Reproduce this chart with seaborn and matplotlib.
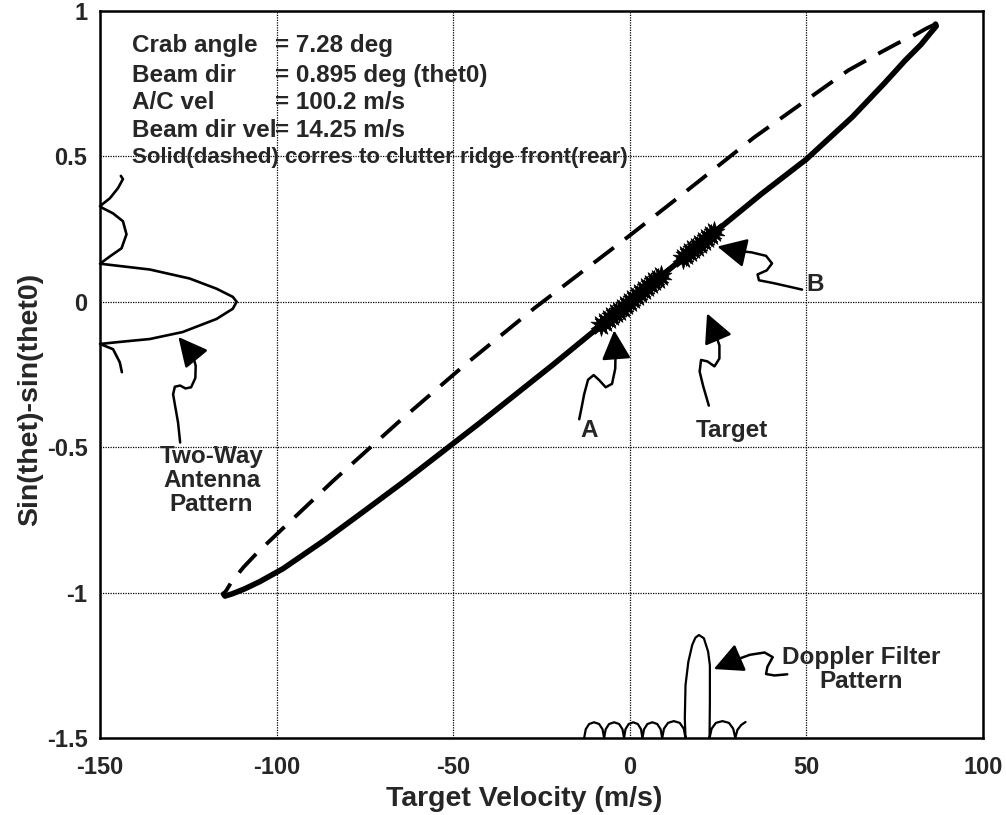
import matplotlib
matplotlib.use("Agg")
import matplotlib.pyplot as plt
import seaborn as sns

# ── data ──────────────────────────────────────────────
# front clutter ridge (solid), lower tip -> upper tip
front_vel = [-115.0, -114.6, -112.5, -109.0, -104.7, -98.2, -86.2, -75.0, -63.7, -42.4,
             -21.7, -1.6, 18.1, 37.2, 50.0, 63.0, 72.0, 78.0, 82.5, 85.2, 86.8, 86.6]
front_sin = [-1.005, -1.012, -1.004, -0.987, -0.962, -0.918, -0.818, -0.718, -0.616, -0.416,
             -0.216, -0.016, 0.180, 0.370, 0.490, 0.635, 0.750, 0.830, 0.885, 0.925, 0.948, 0.955]

# rear clutter ridge (dashed), upper tip -> lower tip
rear_vel = [86.6, 84.0, 80.8, 76.0, 71.4, 61.9, 52.5, 35.2, 13.9, 0.0, -6.8,
            -27.0, -46.6, -65.7, -84.0, -101.4, -105.4, -109.3, -112.7, -114.2, -115.0]
rear_sin = [0.955, 0.940, 0.918, 0.890, 0.860, 0.796, 0.715, 0.565, 0.360, 0.228, 0.165,
            -0.022, -0.216, -0.416, -0.616, -0.816, -0.862, -0.912, -0.962, -0.992, -1.005]

# two-way antenna pattern drawn against the left axis
ant_vel = [-143.8, -144.4, -146.3, -150.0, -144.4, -135.9, -126.6, -117.0, -112.4, -111.3,
           -112.4, -117.0, -124.6, -135.9, -150.0, -147.2, -143.9, -142.5, -143.5, -146.3,
           -149.2, -150.0, -147.2, -144.9, -143.5, -144.1]
ant_sin = [-0.242, -0.208, -0.163, -0.145, -0.138, -0.128, -0.104, -0.059, -0.024, 0.000,
           0.017, 0.045, 0.080, 0.111, 0.131, 0.156, 0.184, 0.232, 0.277, 0.304,
           0.322, 0.329, 0.356, 0.391, 0.422, 0.433]

# doppler filter pattern drawn on the bottom axis
dop_vel = [-12.9, -12.45, -11.5, -10.1, -8.65, -7.7, -7.25,
           -6.8, -5.85, -4.4, -3.0, -2.05, -1.6,
           -1.2, -0.3, 1.0, 2.3, 3.2, 3.6,
           4.05, 5.0, 6.4, 7.8, 8.75, 9.2,
           9.7, 10.85, 12.5, 14.15, 15.3, 15.8,
           15.6, 15.8, 16.6, 17.7, 18.6, 19.6, 21.0, 22.2, 22.7, 22.7, 22.6,
           23.2, 24.4, 26.25, 28.1, 29.3, 29.9,
           30.5, 31.6, 32.8]
dop_sin = [-1.5, -1.47, -1.452, -1.446, -1.452, -1.47, -1.5,
           -1.47, -1.452, -1.446, -1.452, -1.47, -1.5,
           -1.47, -1.452, -1.446, -1.452, -1.47, -1.5,
           -1.47, -1.452, -1.446, -1.452, -1.47, -1.5,
           -1.468, -1.448, -1.442, -1.448, -1.468, -1.5,
           -1.434, -1.318, -1.238, -1.180, -1.155, -1.146, -1.157, -1.203, -1.250, -1.376, -1.5,
           -1.468, -1.448, -1.442, -1.448, -1.468, -1.5,
           -1.472, -1.455, -1.445]

# target returns (fuzzy blobs on the front ridge)
blob_vel = [-8, -7, -6, -5, -4, -3, -2, -1, 0, 1, 2, 3, 4, 5, 6, 7, 8, 9,
            15, 16, 17, 18, 19, 20, 21, 22, 23, 24]
blob_sin = [-0.080, -0.070, -0.060, -0.050, -0.040, -0.030, -0.020, -0.010, 0.000,
            0.010, 0.020, 0.030, 0.040, 0.050, 0.060, 0.070, 0.080, 0.090,
            0.150, 0.160, 0.170, 0.180, 0.190, 0.200, 0.210, 0.220, 0.230, 0.240]

info_labels = ["Crab angle", "Beam dir", "A/C vel", "Beam dir vel"]
info_values = ["= 7.28 deg", "= 0.895 deg (thet0)", "= 100.2 m/s", "= 14.25 m/s"]
note = "Solid(dashed) corres to clutter ridge front(rear)"

x_ticks = [-150, -100, -50, 0, 50, 100]
y_ticks = [-1.5, -1, -0.5, 0, 0.5, 1]
y_tick_labels = ["-1.5", "-1", "-0.5", "0", "0.5", "1"]

# squiggly arrows: (label, label pos, tip, tail points)
arrows = [
    ("Two-Way\nAntenna\nPattern", (-118.4, -0.614), (-127.8, -0.121),
     [(-123.8, -0.180), (-122.9, -0.220), (-123.0, -0.262), (-124.2, -0.294),
      (-125.8, -0.298), (-127.3, -0.288), (-128.8, -0.292), (-129.3, -0.318),
      (-128.7, -0.360), (-127.9, -0.415), (-127.3, -0.484)]),
    ("A", (-11.5, -0.444), (-4.4, -0.098),
     [(-4.0, -0.162), (-4.1, -0.230), (-5.0, -0.282), (-6.8, -0.294),
      (-8.6, -0.270), (-10.2, -0.252), (-11.8, -0.268), (-12.9, -0.318),
      (-13.6, -0.362), (-14.3, -0.404)]),
    ("Target", (29.0, -0.444), (21.9, -0.040),
     [(24.0, -0.100), (25.4, -0.150), (25.4, -0.195), (24.0, -0.222),
      (22.0, -0.205), (20.2, -0.200), (19.8, -0.240), (20.8, -0.290),
      (22.4, -0.357)]),
    ("B", (52.5, 0.059), (24.8, 0.190),
     [(29.9, 0.176), (34.5, 0.170), (38.6, 0.158), (40.3, 0.132),
      (38.8, 0.108), (36.2, 0.094), (36.6, 0.074), (40.8, 0.064),
      (48.8, 0.042)]),
    ("Doppler Filter\nPattern", (65.5, -1.263), (23.8, -1.263),
     [(29.0, -1.236), (34.0, -1.214), (38.2, -1.206), (40.5, -1.222),
      (39.0, -1.255), (38.6, -1.280), (41.0, -1.285), (44.6, -1.281)]),
]

# ── style ─────────────────────────────────────────────
sns.set_theme(style="white")
plt.rcParams['font.family'] = ['Liberation Sans', 'DejaVu Sans']
plt.rcParams['font.weight'] = 'bold'
plt.rcParams['axes.labelweight'] = 'bold'
plt.rcParams['axes.unicode_minus'] = False

fig = plt.figure(figsize=(10.06, 8.15), dpi=100)
ax = fig.add_axes([0.0994, 0.0945, 0.8776, 0.892])

# ── ridges ────────────────────────────────────────────
sns.lineplot(x=front_vel, y=front_sin, sort=False, estimator=None, ax=ax,
             color='black', linewidth=4.0, solid_capstyle='round',
             solid_joinstyle='round', zorder=4)
sns.lineplot(x=rear_vel, y=rear_sin, sort=False, estimator=None, ax=ax,
             color='black', linewidth=2.8, linestyle=(0, (6.5, 3.6)), zorder=4)

# patterns
sns.lineplot(x=ant_vel, y=ant_sin, sort=False, estimator=None, ax=ax,
             color='black', linewidth=1.9, clip_on=False, zorder=4)
sns.lineplot(x=dop_vel, y=dop_sin, sort=False, estimator=None, ax=ax,
             color='black', linewidth=1.6, clip_on=False, zorder=4)

# target blobs
sns.scatterplot(x=blob_vel, y=blob_sin, ax=ax, marker=(10, 1, 0), s=250,
                color='black', edgecolor='black', linewidth=0.5, zorder=5)

# ── annotations ───────────────────────────────────────
for label, lpos, tip, tail in arrows:
    xs = [p[0] for p in tail]
    ys = [p[1] for p in tail]
    ax.plot(xs, ys, color='black', lw=1.8, zorder=4,
            solid_joinstyle='round', solid_capstyle='round')
    ax.annotate("", xy=tip, xytext=tail[0],
                arrowprops=dict(arrowstyle='-|>,head_length=0.9,head_width=0.45',
                                color='black', lw=1.8, mutation_scale=20,
                                shrinkA=0, shrinkB=0), zorder=5)
    ax.text(lpos[0], lpos[1], label, ha='center', va='center', fontsize=17.5,
            fontweight='bold', linespacing=1.05, zorder=6)

rows_y = [0.952, 0.911, 0.874, 0.835]
for yy, lab, val in zip(rows_y, info_labels, info_values):
    ax.text(0.036, yy, lab, transform=ax.transAxes, fontsize=17.5,
            fontweight='bold', va='center', ha='left', zorder=6)
    ax.text(0.198, yy, val, transform=ax.transAxes, fontsize=17.5,
            fontweight='bold', va='center', ha='left', zorder=6)
ax.text(0.036, 0.799, note, transform=ax.transAxes, fontsize=16,
        fontweight='bold', va='center', ha='left', zorder=6)

# ── axes ──────────────────────────────────────────────
ax.set_xlim(-150, 100)
ax.set_ylim(-1.5, 1)
ax.set_xticks(x_ticks)
ax.set_xticklabels([str(t) for t in x_ticks])
ax.set_yticks(y_ticks)
ax.set_yticklabels(y_tick_labels)
ax.grid(True, color='black', linestyle=(0, (1, 1)), linewidth=0.9)
ax.tick_params(axis='x', length=0, labelsize=17, pad=13)
ax.tick_params(axis='y', length=0, labelsize=17, pad=9)
for lab in ax.get_xticklabels() + ax.get_yticklabels():
    lab.set_fontweight('bold')
for sp in ax.spines.values():
    sp.set_color('black')
    sp.set_linewidth(1.8)
ax.set_xlabel('Target Velocity (m/s)', fontsize=20.5, fontweight='bold')
ax.set_ylabel('Sin(thet)-sin(thet0)', fontsize=20.5, fontweight='bold')
ax.xaxis.set_label_coords(0.48, -0.066)
ax.yaxis.set_label_coords(-0.064, 0.465)

fig.savefig('out.png', dpi=100)
